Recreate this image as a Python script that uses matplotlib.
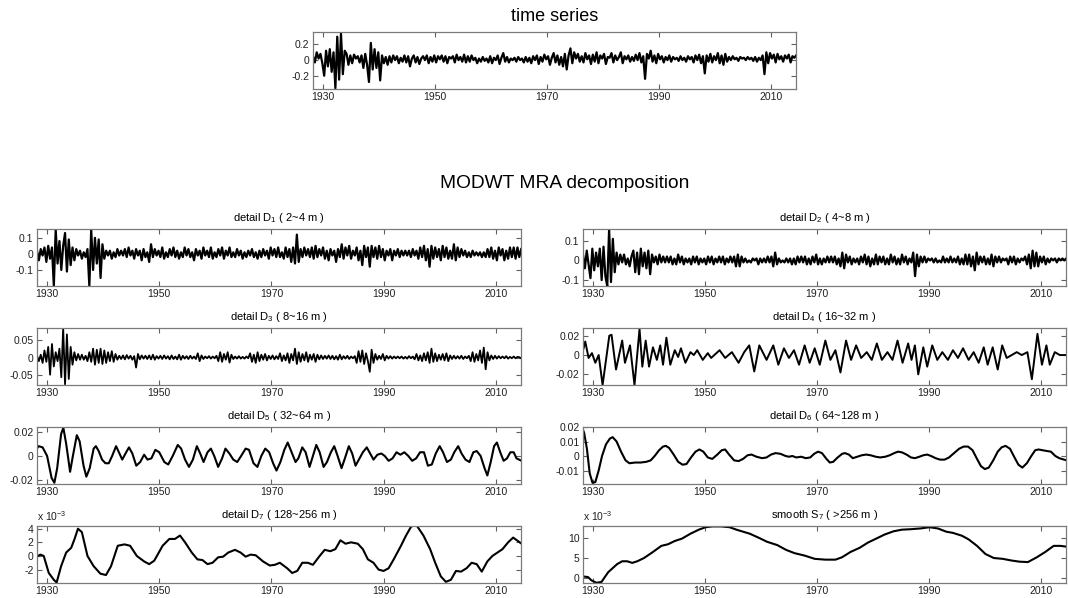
import numpy as np
import matplotlib.pyplot as plt
from matplotlib.ticker import FuncFormatter

plt.rcParams['font.family'] = ['Liberation Sans', 'DejaVu Sans']
plt.rcParams['mathtext.fontset'] = 'custom'
plt.rcParams['mathtext.rm'] = 'Liberation Sans'
plt.rcParams['mathtext.default'] = 'regular'
plt.rcParams['axes.unicode_minus'] = False

# ---- data ----
# noisy panels: 3 samples per year starting 1928.2
ts_cent = [  # time series, x0.01
    5, -3, 10, 2, 8, -4, -20, 12, -8, 14, -15, 10, -36, 30, -25,
    34, -18, 12, 8, -6, 6, -4, 7, 2, 5, -3, 6, -10, 8, -6,
    -28, 22, -12, 14, -10, 10, -26, 6, -4, 4, -6, 5, -3, 6, 0,
    5, -4, 3, -2, 6, -3, 5, -8, 2, 6, -3, 4, -5, 2, 5,
    0, 6, -4, 4, -2, 6, -3, 5, 1, 6, -2, 5, -4, 4, 2,
    5, -3, 7, 0, 4, -2, 7, -3, 5, -2, 6, 0, 3, -4, 2,
    -2, 4, -1, 2, -3, 5, -4, 3, 0, 6, -5, 3, 9, -2, 4,
    -3, 2, 0, 3, -2, 4, 0, 2, -3, 4, -2, 3, -4, 5, 0,
    6, -5, 4, -2, 7, 1, 5, -6, 3, 9, -3, 6, -6, 4, -8,
    8, -12, 6, 15, -4, 10, 2, 8, -2, 5, -3, 9, 1, 6, -5,
    7, -2, 10, -4, 6, 2, 8, -5, 4, 3, 9, -3, 6, 0, 4,
    10, -4, 5, 1, 6, -2, 4, -1, 7, 0, 9, -3, 5, -24, 8,
    2, 12, -2, 6, -4, 8, 1, 5, -3, 4, 0, 6, -2, 4, 1,
    3, -1, 5, 0, 3, -2, 5, 1, 4, -3, 6, 0, 7, -4, 5,
    -17, 6, -2, 8, -3, 5, 0, 9, -4, 6, -6, 8, -2, 4, 0,
    5, 1, 3, -1, 4, 2, 3, 0, 4, 1, 3, -1, 4, -2, 3,
    0, 6, -18, 10, -4, 9, 2, 7, -3, 8, 1, 5, -2, 6, 2,
    7, -3, 5, 3, 6]

d1_cent = [  # detail D1, x0.01
    2, -4, 3, -1, 4, -5, 5, -3, 4, -20, 15, -6, 8, -10, 5,
    13, -11, 9, -7, 4, -4, 3, -1, 2, -3, 1, -2, 3, -20, 15,
    -10, 10, -6, 9, -15, 6, -3, 2, -1, 2, -3, 1, -2, 3, -1,
    2, -1, 3, -2, 4, -1, 2, -3, 3, -1, 2, -4, 3, -2, 1,
    -5, 6, -2, 3, -1, 2, -2, 4, -3, 1, -2, 3, -1, 4, -2,
    2, -3, 1, -2, 4, -1, 3, -2, 1, -4, 3, -1, 2, -3, 4,
    -1, 2, -2, 4, -3, 1, -2, 3, -1, 4, -3, 2, -1, 4, -2,
    1, -2, 3, -1, 2, -3, 1, -2, 2, -1, 3, -2, 1, -3, 2,
    -2, 3, -1, 2, -3, 4, -1, 3, -2, 4, -2, 1, -3, 4, -2,
    3, -5, 4, -6, 12, -5, 3, -2, 4, -1, 3, -2, 4, -3, 5,
    -2, 3, -1, 4, -3, 2, -4, 3, -1, 2, -5, 3, -2, 6, -3,
    4, -1, 5, -3, 2, -1, 4, -4, 2, -7, 5, -2, 4, -8, 5,
    -2, 4, -3, 5, -2, 3, -4, 2, -1, 3, -4, 2, -1, 3, -2,
    2, -1, 2, -1, 2, -2, 3, -1, 2, -3, 4, -2, 5, -4, 3,
    -8, 5, -3, 4, -2, 3, -4, 5, -2, 4, -3, 2, -3, 6, -4,
    4, -2, 3, -1, 2, -2, 1, -2, 2, -1, 1, -1, 1, -2, 1,
    -2, 3, -2, 4, -3, 2, -4, 4, -1, 3, -4, 2, -3, 4, -2,
    4, -3, 4, -2, 3]

d2_cent = [  # detail D2, x0.01
    3, -4, 5, -2, -9, 6, -5, 4, -3, 6, -10, 7, -8, -13, 16,
    -11, 11, -6, 4, -2, 3, -1, 3, -2, 1, -3, 2, 5, -6, 4,
    -7, 6, -3, 4, -4, 5, -7, 3, -1, 2, -2, 3, -1, 2, -1,
    2, -1, 2, -2, 1, -2, 3, -1, 2, -2, 1, -1, 1, -2, 2,
    -1, 2, -2, 1, -1, 1, -2, 2, -1, 2, -2, 1, -1, 2, -1,
    2, -2, 1, -1, 2, -1, 2, -3, 3, -3, 2, -1, 1, -1, 0,
    -1, 1, 0, 1, -2, 1, -1, 1, -1, 2, -1, 2, -3, 4, -2,
    1, -1, 0, -1, 1, -1, 1, -2, 1, -2, 2, -1, 2, -1, 2,
    -2, 1, -2, 2, -1, 3, -2, 1, -2, 1, -1, 2, -1, 2, -1,
    2, -2, 1, -3, 4, -4, 3, -1, 2, -2, 1, -1, 1, -2, 2,
    -1, 3, -2, 2, -3, 1, -2, 3, -2, 2, -1, 2, -2, 1, -2,
    3, -1, 2, -2, 1, -2, 3, -1, 2, -2, 1, -1, 4, -8, 3,
    -3, 2, -1, 2, -1, 1, 0, 1, -1, 1, -1, 0, -1, 2, -1,
    1, -1, 2, -1, 1, -1, 2, -2, 1, -2, 3, -2, 3, -3, 2,
    -5, 4, -2, 2, -1, 2, -2, 1, -2, 3, -3, 2, -1, 2, -1,
    1, 0, 1, -2, 2, -1, 2, -2, 1, -1, 1, 0, 2, -2, 3,
    -4, 5, -3, 4, -3, 2, -1, 2, -2, 1, -1, 1, 0, 1, -1,
    1, 0, 1, 0, 1]

d3_milli = [  # detail D3, x0.001
    5, -10, 8, -15, 20, -12, 30, -48, 38, -25, 15, -10, 25, -55, 83,
    -75, 65, -60, 30, -20, 15, -8, 10, -6, 8, -6, 5, -10, 15, -12,
    25, -20, 22, -15, 25, -18, 20, -15, 15, -10, 18, -12, 10, -6, 5,
    -4, 6, -5, 7, -3, 5, -6, 4, -28, 10, -5, 6, -3, 5, -4,
    6, -5, 8, -6, 4, -3, 5, -4, 6, -3, 4, -5, 6, -4, 3,
    -5, 8, -6, 5, -3, 4, -4, 5, -3, 3, -4, 12, -10, 6, -4,
    3, -2, 4, -3, 3, -2, 5, -10, 15, -12, 10, -6, 15, -14, 8,
    -4, 3, -3, 4, -3, 2, -3, 3, -2, 12, -12, 8, -15, 15, -10,
    8, -6, 10, -8, 5, -4, 6, -5, 4, -4, 12, -10, 6, -8, 12,
    -15, 10, -8, 25, -18, 15, -12, 10, -8, 15, -12, 8, -6, 10, -12,
    8, -5, 6, -4, 5, -3, 6, -4, 5, -5, 4, -6, 8, -5, 4,
    -3, 5, -4, 3, -2, 4, -15, 18, -12, 20, -18, 12, -10, -40, 22,
    -15, 10, -6, 5, -4, 10, -8, 5, -3, 4, -3, 3, -2, 3, -2,
    3, -3, 2, -3, 4, -2, 3, -5, 10, -8, 6, -10, 12, -8, 15,
    -15, 25, -12, 12, -10, 8, -6, 10, -8, 12, -10, 6, -4, 5, -3,
    4, -3, 5, -4, 3, -2, 5, -10, 15, -12, 10, -8, 20, -15, 28,
    -33, 15, -8, 6, -4, 5, -3, 4, -2, 3, -2, 4, -3, 2, -2,
    3, -2, 2, 1, -2]

# smoother panels: (year, value) read at turning points
d4_years = [1928.0, 1928.6, 1929.2, 1929.8, 1930.4, 1931.0, 1931.7, 1932.9, 1933.3, 1934.1,
            1935.2, 1935.7, 1936.6, 1937.4, 1938.3, 1938.8, 1939.4, 1940.0, 1940.7, 1941.4,
            1942.0, 1942.5, 1943.1, 1943.8, 1944.6, 1945.2, 1945.7, 1946.5, 1947.4, 1948.0,
            1948.6, 1949.6, 1950.5, 1951.1, 1952.6, 1953.6, 1954.8, 1956.0, 1957.0, 1957.9,
            1958.8, 1959.7, 1961.0, 1962.2, 1963.1, 1964.1, 1965.0, 1965.9, 1966.8, 1967.8,
            1968.7, 1969.6, 1970.5, 1971.5, 1972.4, 1973.3, 1974.2, 1975.2, 1976.1, 1977.0,
            1977.9, 1978.9, 1979.8, 1980.7, 1981.6, 1982.6, 1983.5, 1984.4, 1985.3, 1986.3,
            1986.9, 1987.5, 1988.1, 1989.0, 1989.7, 1990.6, 1991.5, 1992.4, 1993.4, 1994.3,
            1995.2, 1996.1, 1997.1, 1998.0, 1998.9, 1999.8, 2000.5, 2001.4, 2002.3, 2003.1,
            2003.9, 2004.8, 2005.7, 2006.6, 2007.6, 2008.4, 2009.4, 2010.2, 2011.0, 2011.6,
            2012.5, 2013.4, 2014.6]
d4_milli = [0, 14, -3, 2, -8, 0, -31, 20, 21, -15,
            15, -8, 10, -31, 27, -12, 15, -12, 8, -5,
            10, -10, 18, -10, 5, -2, 7, -8, 3, 0,
            5, -5, 2, -3, 5, -3, 3, -8, 3, 10,
            -17, 10, -5, 10, -10, 7, -3, 5, -10, 10,
            -8, 7, -10, 15, -5, 5, -18, 15, -5, 10,
            -3, 3, -5, 12, -5, 3, -5, 15, -8, 12,
            -5, 10, -20, 8, -12, 10, -5, 3, -5, 5,
            -3, 7, -5, 3, -8, 8, -10, 8, -15, 10,
            -3, 0, 3, 0, 3, -25, 22, -10, 10, -10,
            3, 0, 0]

d5_years = [1928.0, 1928.5, 1929.2, 1930.0, 1930.8, 1931.3, 1931.8, 1932.5, 1932.9, 1933.4,
            1934.1, 1934.6, 1935.3, 1935.8, 1936.5, 1937.0, 1937.6, 1938.3, 1938.7, 1939.2,
            1939.8, 1940.4, 1941.0, 1941.6, 1942.3, 1942.9, 1943.4, 1944.1, 1944.6, 1945.2,
            1945.9, 1946.6, 1947.3, 1947.9, 1948.6, 1949.3, 1950.0, 1950.9, 1951.6, 1952.4,
            1953.3, 1953.9, 1954.6, 1955.3, 1956.0, 1956.7, 1957.3, 1957.9, 1958.6, 1959.2,
            1959.8, 1960.5, 1961.2, 1961.8, 1962.5, 1963.2, 1963.9, 1964.6, 1965.4, 1966.0,
            1966.8, 1967.5, 1968.2, 1968.9, 1969.6, 1970.3, 1970.9, 1971.6, 1972.3, 1972.9,
            1973.6, 1974.3, 1974.8, 1975.5, 1976.1, 1976.8, 1977.4, 1978.0, 1978.6, 1979.3,
            1979.9, 1980.6, 1981.2, 1981.8, 1982.5, 1983.1, 1983.8, 1984.4, 1985.0, 1985.6,
            1986.3, 1987.0, 1987.6, 1988.2, 1988.9, 1989.6, 1990.2, 1990.9, 1991.6, 1992.3,
            1993.0, 1993.7, 1994.4, 1995.1, 1995.8, 1996.5, 1997.2, 1997.9, 1998.6, 1999.3,
            2000.0, 2000.6, 2001.3, 2002.0, 2002.6, 2003.3, 2003.9, 2004.6, 2005.3, 2006.0,
            2006.6, 2007.3, 2008.0, 2008.5, 2009.1, 2009.7, 2010.2, 2010.8, 2011.4, 2012.0,
            2012.6, 2013.2, 2013.7, 2014.6]
d5_milli = [5, 8, 7, 0, -18, -22, -10, 18, 23, 10,
            -13, 0, 17, 12, -8, -17, -10, 6, 8, 4,
            -3, -6, -6, 0, 8, 2, -3, 3, 7, 2,
            -8, -5, 1, -3, -2, 5, 3, -5, -7, 0,
            9, 6, -3, -9, -3, 8, 2, -5, 3, 6,
            0, -9, -2, 6, 2, -3, -5, 0, 6, 5,
            -6, -9, 0, 6, 3, -6, -12, -5, 5, 11,
            3, -5, -2, 7, 3, -9, 0, 9, 3, -9,
            -5, 3, 8, 0, -10, -2, 8, 2, -8, -3,
            3, 7, 2, -3, 1, 2, 0, -4, -2, 3,
            1, 3, 0, -4, -2, 3, 3, -8, -7, 2,
            8, 3, -5, -3, 3, 8, 2, -3, -5, 3,
            4, 0, -10, -16, -5, 8, 11, 3, -4, -2,
            3, 3, -2, -4]

d6_years = [1928.0, 1928.4, 1928.9, 1929.4, 1929.9, 1930.4, 1931.0, 1931.6, 1932.3, 1933.0,
            1933.5, 1934.2, 1935.0, 1935.8, 1936.5, 1937.5, 1938.5, 1939.5, 1940.3, 1941.0,
            1941.8, 1942.5, 1943.0, 1943.6, 1944.4, 1945.2, 1946.0, 1946.7, 1947.5, 1948.3,
            1949.0, 1949.7, 1950.5, 1951.3, 1952.2, 1953.0, 1953.6, 1954.3, 1955.2, 1956.0,
            1956.8, 1957.6, 1958.3, 1959.2, 1960.2, 1961.0, 1961.8, 1962.6, 1963.5, 1964.4,
            1965.0, 1965.6, 1966.3, 1967.2, 1968.0, 1968.8, 1969.5, 1970.2, 1970.9, 1971.7,
            1972.3, 1972.9, 1973.7, 1974.5, 1975.0, 1975.7, 1976.4, 1977.2, 1978.0, 1978.8,
            1979.6, 1980.5, 1981.3, 1982.2, 1983.0, 1983.8, 1984.5, 1985.2, 1986.0, 1986.8,
            1987.5, 1988.3, 1989.0, 1989.7, 1990.4, 1991.2, 1992.0, 1992.8, 1993.6, 1994.5,
            1995.4, 1996.2, 1997.0, 1997.8, 1998.6, 1999.3, 2000.0, 2000.7, 2001.5, 2002.3,
            2003.0, 2003.7, 2004.5, 2005.3, 2006.0, 2006.7, 2007.5, 2008.3, 2009.0, 2009.6,
            2010.3, 2011.0, 2011.8, 2012.6, 2013.3, 2014.6]
d6_milli = [20, 16, 5, -12, -18.5, -18, -10, 0, 8, 12,
            13, 10, 3, -3, -5, -4.5, -4.5, -4, -3, 0,
            4, 6.5, 7, 5.5, 1, -4, -6, -5.5, -1, 3,
            4.5, 3, -1, -2, 1, 4, 4.5, 1, -3, -3.5,
            -2, 0.5, 1, -0.5, -1.5, -1, 1, 2, 1.5, 0,
            -0.5, 0, -1, -0.5, -1.5, -1, 1.5, 3, 2, -2,
            -4.5, -4, -1, 1.5, 2, 1, -1.5, -0.5, 0.5, 1,
            0.5, -0.5, -1, -0.5, 0.5, 2, 3, 2.5, 1, -1,
            -1.5, -0.5, 0.5, 1, 0, -1.5, -2.5, -2.5, -1, 2,
            5, 6.5, 6.5, 4, -2, -7, -9, -8, -3, 3,
            6, 7, 5, -1, -6, -8, -5, 0, 4, 4.5,
            4, 3.5, 3, 0, -1.5, -3]

d7_years = [1928.0, 1928.8, 1929.4, 1930.3, 1931.2, 1931.7, 1932.5, 1933.4, 1934.3, 1934.9,
            1935.5, 1936.2, 1937.2, 1938.3, 1939.5, 1940.5, 1941.4, 1942.6, 1943.8, 1944.8,
            1946.0, 1947.3, 1948.2, 1949.1, 1950.6, 1951.8, 1952.8, 1953.7, 1954.6, 1955.8,
            1956.8, 1957.7, 1958.6, 1959.5, 1960.5, 1961.4, 1962.3, 1963.5, 1964.5, 1965.4,
            1966.3, 1967.2, 1968.5, 1969.7, 1970.6, 1971.5, 1972.8, 1973.7, 1974.6, 1975.5,
            1976.5, 1977.4, 1978.6, 1979.5, 1980.5, 1981.4, 1982.3, 1983.2, 1984.2, 1985.4,
            1986.3, 1987.2, 1988.2, 1989.1, 1990.0, 1990.9, 1991.8, 1993.1, 1994.0, 1994.9,
            1995.8, 1997.1, 1998.3, 1999.2, 2000.2, 2001.1, 2002.0, 2002.9, 2003.8, 2004.8,
            2005.7, 2006.6, 2007.5, 2008.5, 2009.4, 2010.3, 2011.2, 2012.2, 2013.1, 2014.6]
d7_milli = [-0.2, 0.2, 0, -2.5, -3.5, -3.9, -1.5, 0.5, 1.2, 2.5,
            4.0, 3.5, 0, -1.5, -2.6, -2.8, -1.5, 1.5, 1.7, 1.5,
            0, -0.8, -1.2, -0.7, 1.5, 2.5, 2.5, 3.0, 2.0, 0.5,
            -0.5, -0.6, -1.2, -1.0, -0.2, -0.1, 0.5, 0.9, 0.5, -0.1,
            0.2, 0.1, -0.8, -1.4, -1.3, -1.0, -1.8, -2.5, -2.2, -1.0,
            -1.0, -1.3, 0, 0.9, 0.7, 1.0, 2.3, 1.8, 2.0, 1.8,
            1.0, -0.5, -1.0, -2.0, -2.2, -1.8, -0.5, 1.5, 3.0, 4.3,
            4.6, 3.0, 1.0, -1.0, -3.0, -3.8, -3.5, -2.2, -2.3, -1.8,
            -1.0, -1.2, -2.3, -0.8, 0, 0.5, 1.0, 2.0, 2.7, 1.8]

s7_years = [1928.0, 1929.1, 1929.7, 1930.6, 1931.5, 1932.7, 1934.3, 1935.2, 1936.1, 1937.0,
            1937.9, 1939.1, 1940.7, 1942.2, 1943.4, 1944.6, 1945.9, 1947.4, 1948.9, 1950.1,
            1951.3, 1952.9, 1954.4, 1955.6, 1956.8, 1958.0, 1959.6, 1961.1, 1962.9, 1964.5,
            1966.0, 1967.8, 1969.6, 1971.5, 1973.3, 1974.5, 1976.0, 1977.6, 1979.1, 1980.6,
            1982.1, 1983.7, 1985.2, 1986.7, 1988.5, 1990.1, 1991.6, 1993.1, 1994.3, 1995.9,
            1997.1, 1998.6, 2000.1, 2001.6, 2003.2, 2004.7, 2006.2, 2007.7, 2009.3, 2010.8,
            2012.3, 2013.5, 2014.6]
s7_milli = [0.5, 0.3, -0.5, -1.1, -0.9, 1.5, 3.5, 4.2, 4.2, 3.8,
            4.2, 5.0, 6.5, 8.0, 8.4, 9.2, 9.8, 11.0, 12.0, 12.6,
            12.8, 12.8, 12.6, 12.0, 11.5, 11.0, 10.0, 9.0, 8.2, 7.0,
            6.2, 5.6, 4.8, 4.6, 4.6, 5.2, 6.5, 7.5, 8.8, 9.8,
            10.8, 11.6, 12.0, 12.1, 12.3, 12.6, 12.3, 11.5, 11.2, 10.5,
            9.6, 8.0, 6.0, 5.0, 4.8, 4.4, 4.1, 4.0, 5.2, 6.5,
            8.0, 8.0, 7.8]

year_ticks = [1930, 1950, 1970, 1990, 2010]
X0, X1 = 1928.2, 2014.5

W, H = 1068, 598
fig = plt.figure(figsize=(W / 100, H / 100), dpi=100)


def px(x0, x1, y0, y1):
    return [x0 / W, 1 - y1 / H, (x1 - x0) / W, (y1 - y0) / H]


def third_years(vals):
    return X0 + np.arange(len(vals)) / 3


def panel(rect, x, y, ylim, yticks, title, tsize=8, tpad=6, lw=1.3, note=False):
    ax = fig.add_axes(rect)
    ax.plot(x, y, color='black', lw=lw)
    ax.set_xlim(X0, X1)
    ax.set_ylim(ylim)
    ax.set_xticks(year_ticks)
    ax.set_yticks(yticks)
    ax.yaxis.set_major_formatter(FuncFormatter(lambda v, p: '%g' % v))
    ax.tick_params(direction='in', top=True, right=True, length=3.5, width=0.8,
                   color='#606060', labelsize=7.5, pad=2.5, labelcolor='#202020')
    for s in ax.spines.values():
        s.set_color('#7a7a7a')
        s.set_linewidth(0.9)
    ax.set_title(title, fontsize=tsize, pad=tpad)
    if note:
        ax.text(0, 1.05, 'x 10$^{-3}$', transform=ax.transAxes, fontsize=7.5,
                ha='left', va='bottom', color='#202020')
    return ax


LX, RX = (37, 521), (583, 1066)
rows = [(229, 286), (328, 385), (427, 484), (526, 583)]

panel(px(313, 796, 32, 89), third_years(ts_cent), np.array(ts_cent) * 0.01,
      (-0.37, 0.36), [-0.2, 0, 0.2], 'time series', tsize=13, tpad=8, lw=1.6)

fig.text(565 / W, 1 - 183 / H, 'MODWT MRA decomposition', fontsize=13.8,
         ha='center', va='center')

panel(px(*LX, *rows[0]), third_years(d1_cent), np.array(d1_cent) * 0.01,
      (-0.2, 0.155), [-0.1, 0, 0.1], 'detail D$_1$ ( 2~4 m )', lw=1.6)
panel(px(*RX, *rows[0]), third_years(d2_cent), np.array(d2_cent) * 0.01,
      (-0.13, 0.16), [-0.1, 0, 0.1], 'detail D$_2$ ( 4~8 m )', lw=1.6)
panel(px(*LX, *rows[1]), third_years(d3_milli), np.array(d3_milli) * 0.001,
      (-0.077, 0.083), [-0.05, 0, 0.05], 'detail D$_3$ ( 8~16 m )', lw=1.3)
panel(px(*RX, *rows[1]), d4_years, np.array(d4_milli) * 0.001,
      (-0.031, 0.028), [-0.02, 0, 0.02], 'detail D$_4$ ( 16~32 m )', lw=1.4)
panel(px(*LX, *rows[2]), d5_years, np.array(d5_milli) * 0.001,
      (-0.023, 0.0237), [-0.02, 0, 0.02], 'detail D$_5$ ( 32~64 m )', lw=1.5)
panel(px(*RX, *rows[2]), d6_years, np.array(d6_milli) * 0.001,
      (-0.0193, 0.02), [-0.01, 0, 0.01, 0.02], 'detail D$_6$ ( 64~128 m )', lw=1.5)
panel(px(*LX, *rows[3]), d7_years, d7_milli,
      (-3.97, 4.4), [-2, 0, 2, 4], 'detail D$_7$ ( 128~256 m )', lw=1.5, note=True)
panel(px(*RX, *rows[3]), s7_years, s7_milli,
      (-1.16, 12.9), [0, 5, 10], 'smooth S$_7$ ( >256 m )', lw=1.5, note=True)

fig.savefig('out.png', dpi=100)
